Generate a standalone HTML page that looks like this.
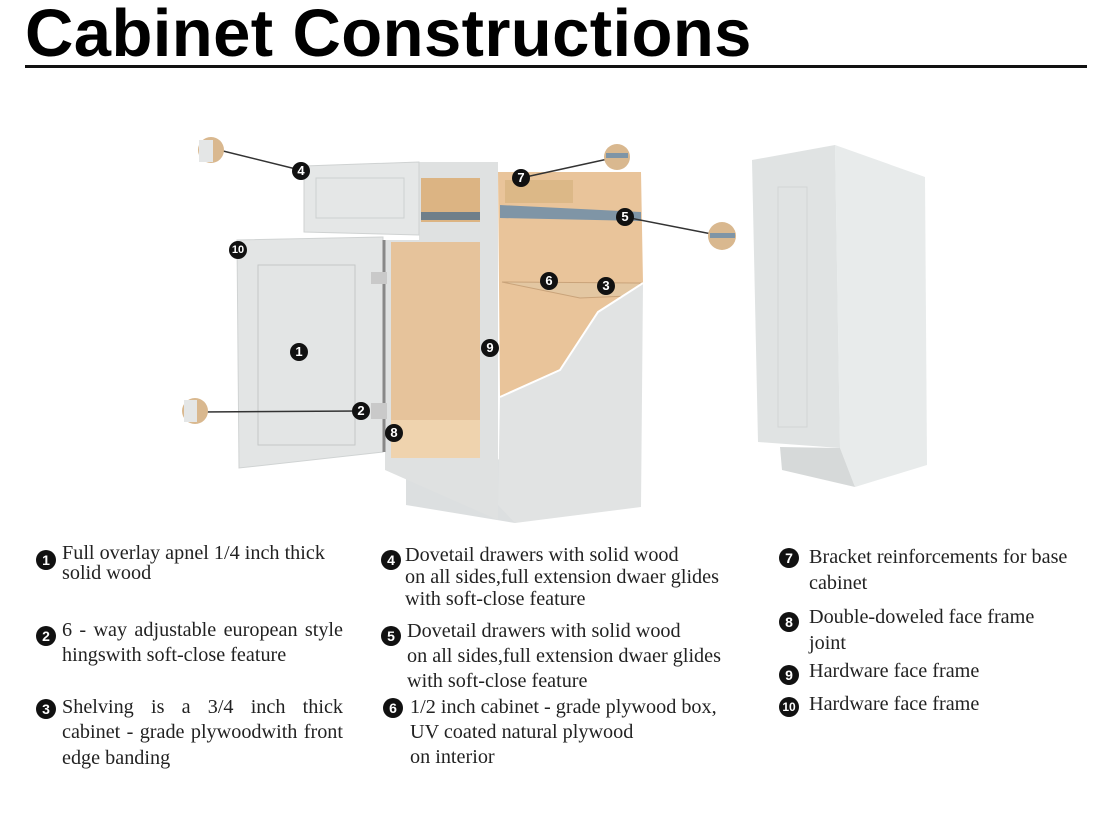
<!DOCTYPE html>
<html><head><meta charset="utf-8"><style>
body{margin:0;width:1109px;height:835px;background:#fff;position:relative;overflow:hidden;font-family:"Liberation Serif",serif;color:#222}
.t{position:absolute;font-size:20.2px;line-height:22px;white-space:nowrap}
.l{position:absolute;font-size:20.2px;white-space:nowrap;text-align:justify;text-align-last:justify}
.b{position:absolute;width:18px;height:18px;border-radius:50%;background:#111;color:#fff;font:bold 13px/18px "Liberation Sans",sans-serif;text-align:center}
.b2{width:20px;height:20px;line-height:20px;font-size:14px}
h1{position:absolute;left:25px;top:-6px;margin:0;font:bold 67px/80px "Liberation Sans",sans-serif;color:#000;letter-spacing:0.4px}
</style></head><body>
<h1>Cabinet Constructions</h1>
<div style="position:absolute;left:25px;top:65px;width:1062px;height:3px;background:#111"></div>
<svg width="1109" height="835" style="position:absolute;left:0;top:0">
<polygon points="406,455 513,460 515,523 406,505" fill="#dcdfe0"/>
<polygon points="498,172 641,172 643,283 600,310 560,370 500,397" fill="#e9c49a"/>
<polygon points="505,180 573,180 573,203 505,203" fill="#dcb887"/>
<polygon points="500,205 641,212 641,221 500,218" fill="#7f95a6"/>
<polygon points="502,282 641,283 628,296 580,298" fill="#e3c7a2" stroke="#c9a37a"/>
<polygon points="500,397 560,370 598,312 643,283 641,507 515,523 498,505" fill="#e1e3e3"/>
<polyline points="500,397 560,370 598,312 643,283" fill="none" stroke="#fff" stroke-width="2"/>
<polygon points="385,240 419,240 419,162 498,162 498,520 385,470" fill="#dfe1e1"/>
<rect x="391" y="242" width="89" height="216" fill="#e6c39b"/>
<polygon points="391,420 480,420 480,458 391,458" fill="#efd3ae"/>
<rect x="421" y="178" width="59" height="44" fill="#dcb483"/>
<rect x="421" y="212" width="59" height="8" fill="#6f7f8a"/>
<polygon points="304,166 419,162 419,235 304,232" fill="#e5e7e7" stroke="#cfd2d2"/>
<rect x="316" y="178" width="88" height="40" fill="none" stroke="#cdd0d0"/>
<polygon points="237,240 383,237 383,452 239,468" fill="#e3e5e5" stroke="#d0d3d3"/>
<rect x="258" y="265" width="97" height="180" fill="none" stroke="#c5c8c8"/>
<line x1="384" y1="240" x2="384" y2="452" stroke="#888" stroke-width="3"/>
<rect x="371" y="272" width="16" height="12" fill="#c9c9c9"/><rect x="371" y="403" width="16" height="16" fill="#c9c9c9"/>
<polygon points="835,145 925,177 927,465 855,487 840,448" fill="#e8ebeb"/>
<polygon points="752,160 835,145 840,448 758,442" fill="#e0e3e3"/>
<rect x="778" y="187" width="29" height="240" fill="none" stroke="#d2d5d5"/>
<polygon points="780,447 840,448 855,487 782,470" fill="#d6d9d9"/>
<g stroke="#333" stroke-width="1.5">
<line x1="219" y1="150" x2="300" y2="170"/><line x1="617" y1="157" x2="521" y2="178"/>
<line x1="625" y1="217" x2="722" y2="236"/><line x1="200" y1="412" x2="360" y2="411"/>
</g>
<g fill="#d9b88f"><circle cx="211" cy="150" r="13"/><circle cx="617" cy="157" r="13"/><circle cx="722" cy="236" r="14"/><circle cx="195" cy="411" r="13"/></g>
<g fill="#e4e6e6"><rect x="199" y="140" width="14" height="22"/><rect x="184" y="400" width="13" height="22"/></g>
<g fill="#7f95a6"><rect x="606" y="153" width="22" height="5"/><rect x="710" y="233" width="25" height="5"/></g>
</svg>
<div class="b" style="left:292px;top:162px">4</div>
<div class="b" style="left:512px;top:169px">7</div>
<div class="b" style="left:616px;top:208px">5</div>
<div class="b" style="left:229px;top:241px;font-size:11px">10</div>
<div class="b" style="left:540px;top:272px">6</div>
<div class="b" style="left:597px;top:277px">3</div>
<div class="b" style="left:290px;top:343px">1</div>
<div class="b" style="left:481px;top:339px">9</div>
<div class="b" style="left:352px;top:402px">2</div>
<div class="b" style="left:385px;top:424px">8</div>

<div class="b b2" style="left:36px;top:550px">1</div>
<div class="t" style="left:62px;top:543px;line-height:20px">Full overlay apnel 1/4 inch thick<br>solid wood</div>
<div class="b b2" style="left:36px;top:626px">2</div>
<div class="l" style="left:62px;top:619px;width:281px">6 - way adjustable european style</div>
<div class="t" style="left:62px;top:644px">hingswith soft-close feature</div>
<div class="b b2" style="left:36px;top:699px">3</div>
<div class="l" style="left:62px;top:696px;width:281px">Shelving is a 3/4 inch thick</div>
<div class="l" style="left:62px;top:721px;width:281px">cabinet - grade plywoodwith front</div>
<div class="t" style="left:62px;top:747px">edge banding</div>

<div class="b b2" style="left:381px;top:550px">4</div>
<div class="t" style="left:405px;top:544px;line-height:22px">Dovetail drawers with solid wood<br>on all sides,full extension dwaer glides<br>with soft-close feature</div>
<div class="b b2" style="left:381px;top:626px">5</div>
<div class="t" style="left:407px;top:619px;line-height:25px">Dovetail drawers with solid wood<br>on all sides,full extension dwaer glides<br>with soft-close feature</div>
<div class="b b2" style="left:383px;top:698px">6</div>
<div class="t" style="left:410px;top:695px;line-height:25px">1/2 inch cabinet - grade plywood box,<br>UV coated natural plywood<br>on interior</div>

<div class="b b2" style="left:779px;top:548px">7</div>
<div class="t" style="left:809px;top:544px;line-height:26px">Bracket reinforcements for base<br>cabinet</div>
<div class="b b2" style="left:779px;top:612px">8</div>
<div class="t" style="left:809px;top:604px;line-height:26px">Double-doweled face frame<br>joint</div>
<div class="b b2" style="left:779px;top:665px">9</div>
<div class="t" style="left:809px;top:660px">Hardware face frame</div>
<div class="b b2" style="left:779px;top:697px;font-size:12px">10</div>
<div class="t" style="left:809px;top:693px">Hardware face frame</div>
</body></html>
